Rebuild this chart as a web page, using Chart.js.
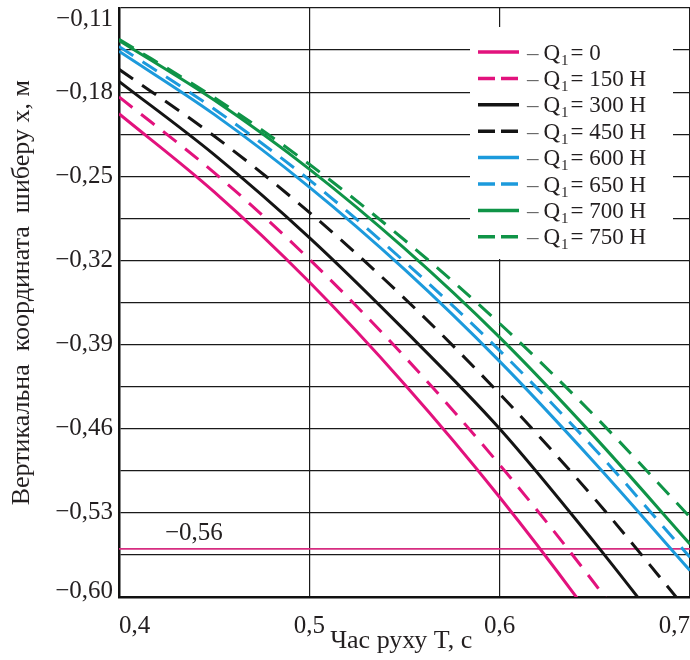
<!DOCTYPE html>
<html lang="uk">
<head>
<meta charset="utf-8">
<script src="https://cdn.jsdelivr.net/npm/chart.js@4.4.1/dist/chart.umd.min.js"></script>
<style>
  html, body { margin: 0; padding: 0; background: #fff; overflow: hidden; }
  #wrap { position: relative; width: 690px; height: 660px; }
</style>
</head>
<body>
<div id="wrap"><canvas id="chart" width="690" height="660"></canvas></div>
<script>
// Motion time T, s
const timeValues = [0.40, 0.45, 0.50, 0.55, 0.60, 0.65, 0.70];

// Vertical gate coordinate x, m, for each load Q1
const gateQ0   = [-0.198, -0.263, -0.338, -0.423, -0.517, -0.621, -0.735];
const gateQ150 = [-0.184, -0.247, -0.319, -0.400, -0.490, -0.589, -0.697];
const gateQ300 = [-0.171, -0.232, -0.301, -0.378, -0.460, -0.555, -0.656];
const gateQ450 = [-0.161, -0.2165, -0.280, -0.3515, -0.431, -0.5185, -0.614];
const gateQ600 = [-0.146, -0.1985, -0.259, -0.3275, -0.404, -0.4885, -0.578];
const gateQ650 = [-0.142, -0.194, -0.253, -0.321, -0.395, -0.477, -0.567];
const gateQ700 = [-0.137, -0.1866, -0.244, -0.310, -0.384, -0.467, -0.556];
const gateQ750 = [-0.136, -0.1845, -0.240, -0.303, -0.3725, -0.4495, -0.5335];

const loadLabels = ['0', '150 Н', '300 Н', '450 Н', '600 Н', '650 Н', '700 Н', '750 Н'];
const seriesValues = [gateQ0, gateQ150, gateQ300, gateQ450, gateQ600, gateQ650, gateQ700, gateQ750];

// Lower limit of the gate position
const limitValue = -0.56;

// Axis ticks
const xTickValues = [0.4, 0.5, 0.6, 0.7];
const yLabelValues = [-0.60, -0.53, -0.46, -0.39, -0.32, -0.25, -0.18, -0.11];
const yGridValues = [-0.60, -0.565, -0.53, -0.495, -0.46, -0.425, -0.39, -0.355,
                     -0.32, -0.285, -0.25, -0.215, -0.18, -0.145, -0.11];

// Styles
const PINK = '#E2127D', BLACK = '#141414', BLUE = '#1C9ADC', GREEN = '#0F9447';
const seriesColors = [PINK, PINK, BLACK, BLACK, BLUE, BLUE, GREEN, GREEN];
const seriesDashed = [false, true, false, true, false, true, false, true];
const DASH = [17, 11];
const SERIF = '"Liberation Serif", "Times New Roman", serif';
const TEXT = '#231f20';

// Decimal comma and a true minus sign
const fmt = (v, digits) => (v < 0 ? '\u2212' : '') + Math.abs(v).toFixed(digits).replace('.', ',');

const datasets = seriesValues.map((vals, i) => ({
  label: 'Q1 = ' + loadLabels[i],
  data: timeValues.map((t, k) => ({ x: t, y: vals[k] })),
  borderColor: seriesColors[i],
  borderWidth: 3,
  borderDash: seriesDashed[i] ? DASH : [],
  borderCapStyle: 'butt',
  pointRadius: 0,
  fill: false,
  cubicInterpolationMode: 'monotone',
  clip: 0
}));

datasets.push({
  label: 'limit',
  data: [{ x: xTickValues[0], y: limitValue }, { x: xTickValues[xTickValues.length - 1], y: limitValue }],
  borderColor: '#D62C80',
  borderWidth: 1.6,
  pointRadius: 0,
  fill: false,
  clip: 0
});

// Edge y-labels sit inside the plot height
const edgeLabels = {
  id: 'edgeLabels',
  beforeDraw(chart) {
    const items = chart.scales.y.getLabelItems();
    if (!items.length) return;
    items[0].options.translation[1] -= 6;
    items[items.length - 1].options.translation[1] += 11;
  }
};

// Limit line caption
const limitCaption = {
  id: 'limitCaption',
  afterDatasetsDraw(chart) {
    const { ctx, scales: { y } } = chart;
    const py = y.getPixelForValue(limitValue);
    ctx.save();
    ctx.font = '25px ' + SERIF;
    ctx.fillStyle = TEXT;
    ctx.textAlign = 'left';
    ctx.textBaseline = 'middle';
    ctx.fillText(fmt(limitValue, 2), 165, py - 15);
    ctx.restore();
  }
};

// Legend drawn inside the plot area
const innerLegend = {
  id: 'innerLegend',
  afterDatasetsDraw(chart) {
    const ctx = chart.ctx;
    const box = { left: 470, top: 27, right: 673, bottom: 259 };
    ctx.save();
    ctx.fillStyle = '#fff';
    ctx.fillRect(box.left, box.top, box.right - box.left, box.bottom - box.top);
    for (let i = 0; i < loadLabels.length; i++) {
      const ds = chart.data.datasets[i];
      const cy = 52 + i * 26.4;
      ctx.beginPath();
      ctx.setLineDash(ds.borderDash && ds.borderDash.length ? [17, 6] : []);
      ctx.strokeStyle = ds.borderColor;
      ctx.lineWidth = 3.5;
      ctx.lineCap = 'butt';
      ctx.moveTo(478, cy);
      ctx.lineTo(519, cy);
      ctx.stroke();
      ctx.setLineDash([]);

      const base = cy + 7.5;
      ctx.textBaseline = 'alphabetic';
      ctx.textAlign = 'left';
      ctx.font = '23px ' + SERIF;
      ctx.fillStyle = '#6a6a6a';
      ctx.fillText('\u2013', 527, base);
      ctx.fillStyle = TEXT;
      ctx.fillText('Q', 543.5, base);
      let x = 543.5 + ctx.measureText('Q').width + 1;
      ctx.font = '15px ' + SERIF;
      ctx.fillText('1', x, base + 5);
      x += ctx.measureText('1').width + 2;
      ctx.font = '23px ' + SERIF;
      ctx.fillText('= ' + loadLabels[i], x, base);
    }
    ctx.restore();
  }
};

new Chart(document.getElementById('chart'), {
  type: 'line',
  data: { datasets },
  options: {
    responsive: false,
    animation: false,
    events: [],
    layout: { padding: { top: 8, right: 0, bottom: 0, left: 0 } },
    plugins: { legend: { display: false }, tooltip: { enabled: false } },
    scales: {
      x: {
        type: 'linear',
        min: xTickValues[0],
        max: xTickValues[xTickValues.length - 1],
        afterBuildTicks: s => { s.ticks = xTickValues.map(v => ({ value: v })); },
        afterFit: s => { s.height = 63; s.paddingLeft = 0; s.paddingRight = 0; },
        ticks: {
          align: 'inner',
          padding: 14,
          maxRotation: 0,
          autoSkip: false,
          color: TEXT,
          font: { family: SERIF, size: 25 },
          callback: v => fmt(v, 1)
        },
        grid: { color: '#1a1a1a', lineWidth: 1.2, drawTicks: false },
        border: { color: '#111', width: 2.5 },
        title: {
          display: true,
          text: 'Час руху T, с ',
          color: TEXT,
          font: { family: SERIF, size: 26 },
          padding: { top: 0, bottom: 3 }
        }
      },
      y: {
        type: 'linear',
        min: yLabelValues[0],
        max: yLabelValues[yLabelValues.length - 1],
        afterBuildTicks: s => { s.ticks = yGridValues.map(v => ({ value: v })); },
        afterFit: s => { s.width = 119; s.paddingTop = 0; s.paddingBottom = 0; },
        ticks: {
          padding: 6,
          autoSkip: false,
          color: TEXT,
          font: { family: SERIF, size: 25 },
          callback: v => yLabelValues.some(t => Math.abs(t - v) < 1e-9) ? fmt(v, 2) : ''
        },
        grid: { color: '#1a1a1a', lineWidth: 1.2, drawTicks: false },
        border: { color: '#111', width: 2.5 },
        title: {
          display: true,
          text: '   Вертикальна  координата  шиберу x, м',
          color: TEXT,
          font: { family: SERIF, size: 26 },
          padding: { top: 7, bottom: 0 }
        }
      }
    }
  },
  plugins: [edgeLabels, limitCaption, innerLegend]
});
</script>
</body>
</html>
